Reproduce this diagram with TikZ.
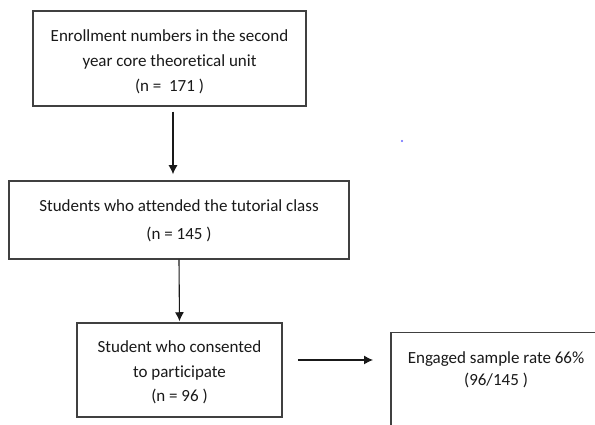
\documentclass[tikz,border=0pt]{standalone}
\usepackage{fontspec}
\setmainfont[Ligatures=NoCommon]{Carlito}
\usetikzlibrary{arrows.meta,calc}
\begin{document}
\begin{tikzpicture}[x=1pt,y=1pt,
  box/.style={draw=black!75, line width=1.5pt, rectangle, inner sep=0pt},
  txt/.style={inner sep=0pt, align=center, text=black!90},
  arr/.style={draw=black!90, line width=1.1pt, -{Latex[length=9pt,width=9pt]}}]
\useasboundingbox (0,0) rectangle (595,425);
\clip (0,0) rectangle (595,425);
\fill[white] (0,0) rectangle (595,425);
\node[box, minimum width=273, minimum height=95] (b1) at (169.5,366.5) {};
\node[txt, font=\fontsize{17}{25}\selectfont] (t1) at ([yshift=-3.5]b1.center)
  {Enrollment numbers in the second\\year core theoretical unit\\(n = \ 171 )};
\node[box, minimum width=340, minimum height=78] (b2) at (179,205) {};
\node[txt, font=\fontsize{17}{28}\selectfont] (t2) at ([yshift=-1]b2.center)
  {Students who attended the tutorial class\\(n = 145 )};
\node[box, minimum width=205, minimum height=94] (b3) at (179.5,55) {};
\node[txt, font=\fontsize{17}{24.5}\selectfont] (t3) at ([yshift=-2.5]b3.center)
  {Student who consented\\to participate\\(n = 96 )};
\node[box, minimum width=212, minimum height=110, anchor=north west] (b4) at (390,93) {};
\node[txt, font=\fontsize{17}{22}\selectfont, anchor=north] (t4) at (496,73) {Engaged sample rate 66\%\\(96/145 )};
\draw[arr, shorten <=5pt, shorten >=6pt] (b1.south -| 173,0) -- (b2.north -| 173,0);
\draw[arr, shorten <=0pt, shorten >=1pt] (b2.south) -- (b3.north);
\draw[arr, shorten <=15pt, shorten >=17pt] (b3.east |- 0,65) -- (b4.west |- 0,65);
\fill[blue!60] (402,284) circle (1.2);
\end{tikzpicture}
\end{document}
